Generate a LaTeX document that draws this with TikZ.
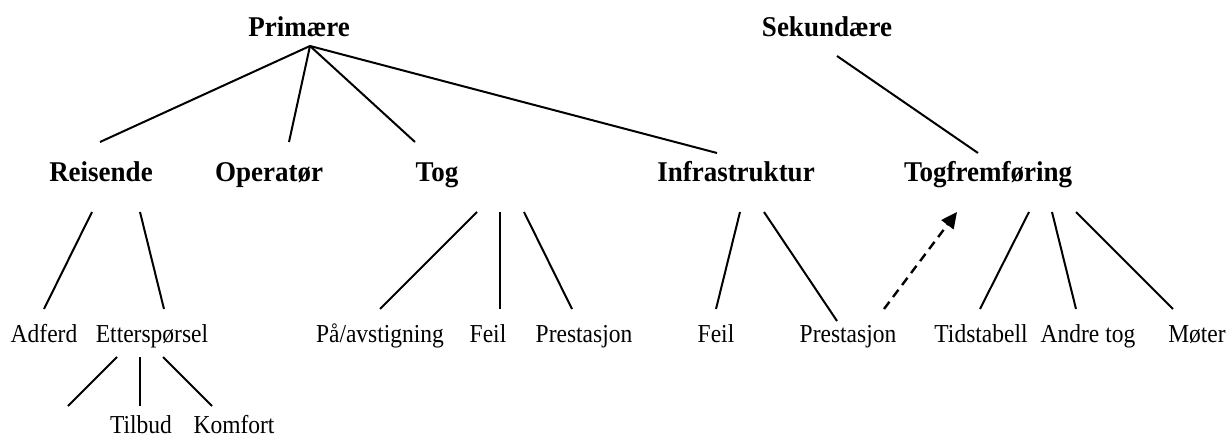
\documentclass[tikz,border=0pt]{standalone}
\usepackage{fontspec}
\setmainfont{Liberation Serif}
\usetikzlibrary{arrows.meta}
% slightly tall lettering for headings and leaves
\newcommand{\headtext}[1]{\scalebox{1}[1.06]{#1}}
\newcommand{\leaftext}[1]{\scalebox{1}[1.1]{#1}}
\begin{document}
\begin{tikzpicture}[x=1pt,y=-1pt,
  head/.style={anchor=base,inner sep=0pt,font=\fontsize{27}{30}\selectfont\bfseries},
  leaf/.style={anchor=base,inner sep=0pt,font=\fontsize{23.5}{26}\selectfont},
  link/.style={line width=2pt},
  influence/.style={line width=2.4pt,dash pattern=on 9pt off 6pt,-{Triangle[length=16pt,width=15pt]}}]
\useasboundingbox (0,0) rectangle (1226,438);

% category headings
\node[head] (prim) at (299,37) {\headtext{Primære}};
\node[head] (sek) at (827,37) {\headtext{Sekundære}};
\node[head] (reis) at (101,182) {\headtext{Reisende}};
\node[head] (oper) at (269,182) {\headtext{Operatør}};
\node[head] (tog) at (437,182) {\headtext{Tog}};
\node[head] (infra) at (736,182) {\headtext{Infrastruktur}};
\node[head] (frem) at (988,182) {\headtext{Togfremføring}};

% leaf factors
\node[leaf] (adferd) at (44,342) {\leaftext{Adferd}};
\node[leaf] (etter) at (152,342) {\leaftext{Etterspørsel}};
\node[leaf] (tilbud) at (141,433) {\leaftext{Tilbud}};
\node[leaf] (komfort) at (234,433) {\leaftext{Komfort}};
\node[leaf] (paav) at (380,342) {\leaftext{På/avstigning}};
\node[leaf] (tfeil) at (488,342) {\leaftext{Feil}};
\node[leaf] (tprest) at (584,342) {\leaftext{Prestasjon}};
\node[leaf] (ifeil) at (716,342) {\leaftext{Feil}};
\node[leaf] (iprest) at (848,342) {\leaftext{Prestasjon}};
\node[leaf] (tids) at (981,342) {\leaftext{Tidstabell}};
\node[leaf] (andre) at (1088,342) {\leaftext{Andre tog}};
\node[leaf] (moter) at (1197,342) {\leaftext{Møter}};

% line end points
\coordinate (prim-s) at (310,46);
\coordinate (reis-n) at (100,142);
\coordinate (oper-n) at (289,142);
\coordinate (tog-n) at (415,142);
\coordinate (infra-n) at (717,153);
\coordinate (sek-s) at (837,56);
\coordinate (frem-n) at (978,153);

\coordinate (reis-sw) at (92,212);   \coordinate (adferd-n) at (44,309);
\coordinate (reis-se) at (140,212);  \coordinate (etter-n) at (164,309);
\coordinate (etter-sw) at (117,357); \coordinate (blank-n) at (68,406);
\coordinate (etter-s) at (140,357);  \coordinate (tilbud-n) at (140,406);
\coordinate (etter-se) at (163,357); \coordinate (komfort-n) at (212,406);

\coordinate (tog-sw) at (477,212);   \coordinate (paav-n) at (380,309);
\coordinate (tog-s) at (500,212);    \coordinate (tfeil-n) at (500,309);
\coordinate (tog-se) at (524,212);   \coordinate (tprest-n) at (572,309);

\coordinate (infra-sw) at (740,212); \coordinate (ifeil-n) at (716,309);
\coordinate (infra-se) at (764,212); \coordinate (iprest-n) at (837,321);

\coordinate (iprest-ne) at (884,309); \coordinate (frem-sw) at (957,212);

\coordinate (frem-s1) at (1029,212); \coordinate (tids-n) at (980,309);
\coordinate (frem-s2) at (1052,212); \coordinate (andre-n) at (1076,309);
\coordinate (frem-s3) at (1076,212); \coordinate (moter-n) at (1173,309);

% tree connectors
\draw[link] (prim-s) -- (reis-n);
\draw[link] (prim-s) -- (oper-n);
\draw[link] (prim-s) -- (tog-n);
\draw[link] (prim-s) -- (infra-n);
\draw[link] (sek-s) -- (frem-n);

\draw[link] (reis-sw) -- (adferd-n);
\draw[link] (reis-se) -- (etter-n);
\draw[link] (etter-sw) -- (blank-n);
\draw[link] (etter-s) -- (tilbud-n);
\draw[link] (etter-se) -- (komfort-n);

\draw[link] (tog-sw) -- (paav-n);
\draw[link] (tog-s) -- (tfeil-n);
\draw[link] (tog-se) -- (tprest-n);

\draw[link] (infra-sw) -- (ifeil-n);
\draw[link] (infra-se) -- (iprest-n);

\draw[link] (frem-s1) -- (tids-n);
\draw[link] (frem-s2) -- (andre-n);
\draw[link] (frem-s3) -- (moter-n);

% influence of infrastructure performance on train running
\draw[influence] (iprest-ne) -- (frem-sw);
\end{tikzpicture}
\end{document}
